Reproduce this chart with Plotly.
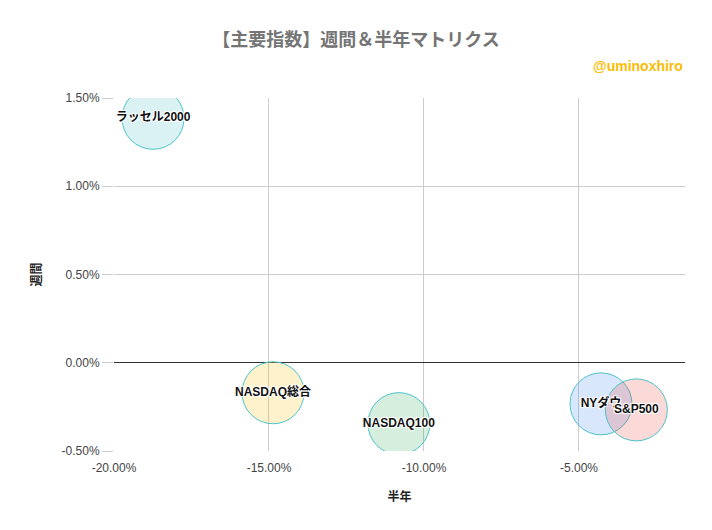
"""Weekly vs half-year matrix of major US indices, as a Plotly bubble chart."""

import plotly.graph_objects as go

# index names and returns (percent)
names = ["ラッセル2000", "NASDAQ総合", "NASDAQ100", "NYダウ", "S&P500"]
half_year = [-18.74, -14.87, -10.81, -4.29, -3.15]
weekly = [1.385, -0.17, -0.345, -0.233, -0.267]
fill_colors = [
    "rgba(70,189,198,0.2)",
    "rgba(251,188,4,0.2)",
    "rgba(52,168,83,0.2)",
    "rgba(66,133,244,0.2)",
    "rgba(234,67,53,0.2)",
]

x_ticks = [-20, -15, -10, -5]
y_ticks = [-0.5, 0.0, 0.5, 1.0, 1.5]

FONT = "Arial, 'Liberation Sans', 'Noto Sans CJK JP', sans-serif"
HALO = "1px 1px 1px #fff, -1px -1px 1px #fff, 1px -1px 1px #fff, -1px 1px 1px #fff"


def pct_labels(values):
    return [f"{v:.2f}%" for v in values]


fig = go.Figure()
fig.add_trace(
    go.Scatter(
        x=half_year,
        y=weekly,
        mode="markers+text",
        text=names,
        textposition="middle center",
        textfont=dict(family=FONT, size=12, color="#111", weight="bold", shadow=HALO),
        marker=dict(
            size=62,
            color=fill_colors,
            line=dict(color="#4cc3c9", width=1),
        ),
        showlegend=False,
        hoverinfo="skip",
    )
)

# the page body adds 8px around the figure, so the figure is a bit smaller
fig.update_layout(
    width=696,
    height=514,
    margin=dict(l=106, r=19, t=90, b=71),
    paper_bgcolor="white",
    plot_bgcolor="white",
    font=dict(family=FONT, size=12, color="#444"),
    title=dict(
        text="【主要指数】週間＆半年マトリクス",
        x=0.5,
        xanchor="center",
        y=0.938,
        yanchor="middle",
        font=dict(family="'Noto Sans CJK JP', sans-serif", size=18, color="#757575", weight="bold"),
    ),
    annotations=[
        dict(
            text="@uminoxhiro",
            xref="paper",
            yref="paper",
            x=1,
            y=1.091,
            xanchor="right",
            yanchor="middle",
            showarrow=False,
            font=dict(family=FONT, size=14, color="#fbbc04", weight="bold"),
        )
    ],
)

fig.update_xaxes(
    range=[-20, -1.58],
    tickvals=x_ticks,
    ticktext=pct_labels(x_ticks),
    showgrid=True,
    gridcolor="#cccccc",
    zeroline=False,
    showline=False,
    ticks="outside",
    ticklen=6,
    tickcolor="rgba(0,0,0,0)",
    title=dict(text="半年", standoff=18, font=dict(family=FONT, size=12, color="#222", weight="bold")),
)
fig.update_yaxes(
    range=[-0.5, 1.5],
    tickvals=y_ticks,
    ticktext=pct_labels(y_ticks),
    showgrid=True,
    gridcolor="#cccccc",
    zeroline=True,
    zerolinecolor="#333333",
    zerolinewidth=1,
    showline=False,
    ticks="outside",
    ticklen=11,
    tickcolor="#cccccc",
    title=dict(text="週間", standoff=17, font=dict(family=FONT, size=12, color="#222", weight="bold")),
)

fig.write_html("out.html")
